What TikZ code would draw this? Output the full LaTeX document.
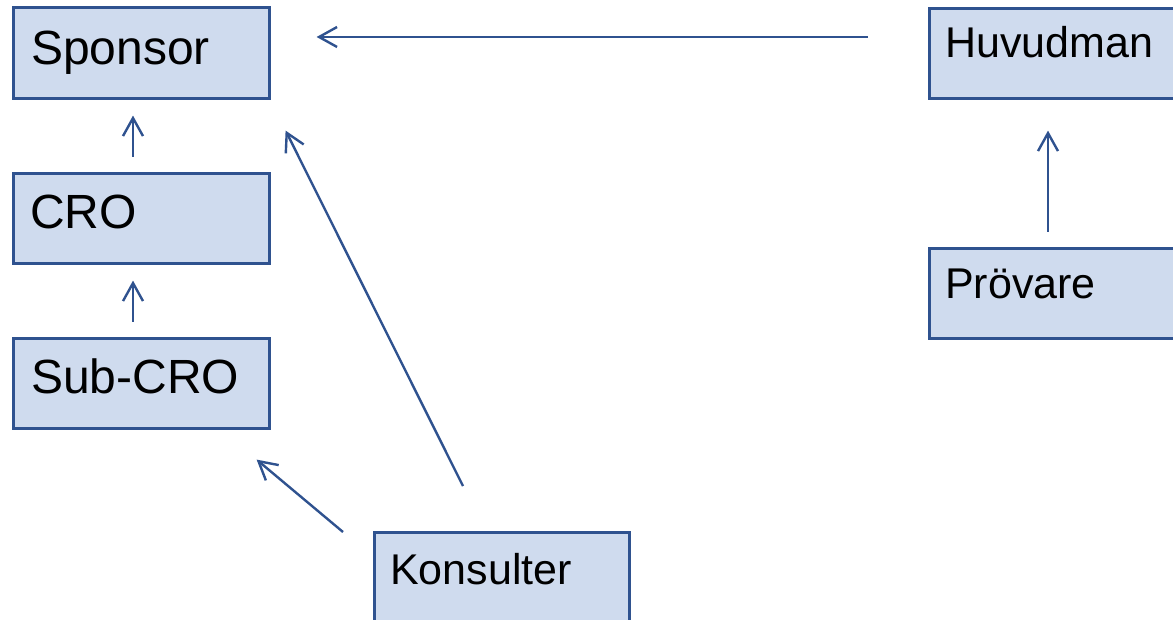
\documentclass[tikz,border=0pt]{standalone}
\usepackage{fontspec}
\setmainfont{Liberation Sans}
\usetikzlibrary{arrows.meta,calc}
\definecolor{boxfill}{RGB}{207,219,238}
\definecolor{boxline}{RGB}{47,82,143}
\begin{document}
\begin{tikzpicture}[x=1pt,y=1pt,
  box/.style={draw=boxline,fill=boxfill,line width=2.6pt,rectangle,anchor=north west,inner sep=0pt},
  bigtxt/.style={anchor=base west,inner sep=0pt,font=\fontsize{48}{56}\selectfont},
  smalltxt/.style={anchor=base west,inner sep=0pt,font=\fontsize{43}{50}\selectfont},
  arr/.style={draw=boxline,line width=2.4pt,-{Straight Barb[length=18pt,width=20pt]}}]
\useasboundingbox (0,0) rectangle (1173,-620);
\clip (0,0) rectangle (1173,-620);
% boxes
\node[box,minimum width=256pt,minimum height=91pt] (sponsor) at (12,-6) {};
\node[box,minimum width=256pt,minimum height=90pt] (cro) at (12,-172) {};
\node[box,minimum width=256pt,minimum height=90pt] (sub) at (12,-337) {};
\node[box,minimum width=260pt,minimum height=90pt] (huv) at (928,-7) {};
\node[box,minimum width=260pt,minimum height=90pt] (prov) at (928,-247) {};
\node[box,minimum width=255pt,minimum height=100pt] (kons) at (373,-531) {};
% texts
\node[bigtxt] (sponsorT) at (31,-64.5) {Sponsor};
\node[bigtxt] (croT) at (30,-228.5) {CRO};
\node[bigtxt] (subT) at (31,-393) {Sub-CRO};
\node[smalltxt] (huvT) at (945,-58) {Huvudman};
\node[smalltxt] (provT) at (945,-299) {Prövare};
\node[smalltxt] (konsT) at (390,-584) {Konsulter};
% connectors
\draw[arr] ($(huv.north west)+(-60,-30)$) -- ($(sponsor.north east)+(46,-31)$);
\draw[arr] ($(cro.north west)+(121,15)$) -- ($(sponsor.south west)+(121,-16)$);
\draw[arr] ($(sub.north west)+(121,15)$) -- ($(cro.south west)+(121,-16)$);
\draw[arr] ($(prov.north west)+(120,15)$) -- ($(huv.south west)+(120,-31)$);
\draw[arr] ($(kons.north west)+(90,45)$) -- ($(sponsor.south east)+(15,-31)$);
\draw[arr] ($(kons.north west)+(-30,-1)$) -- ($(sub.south east)+(-14,-30)$);
\end{tikzpicture}
\end{document}
